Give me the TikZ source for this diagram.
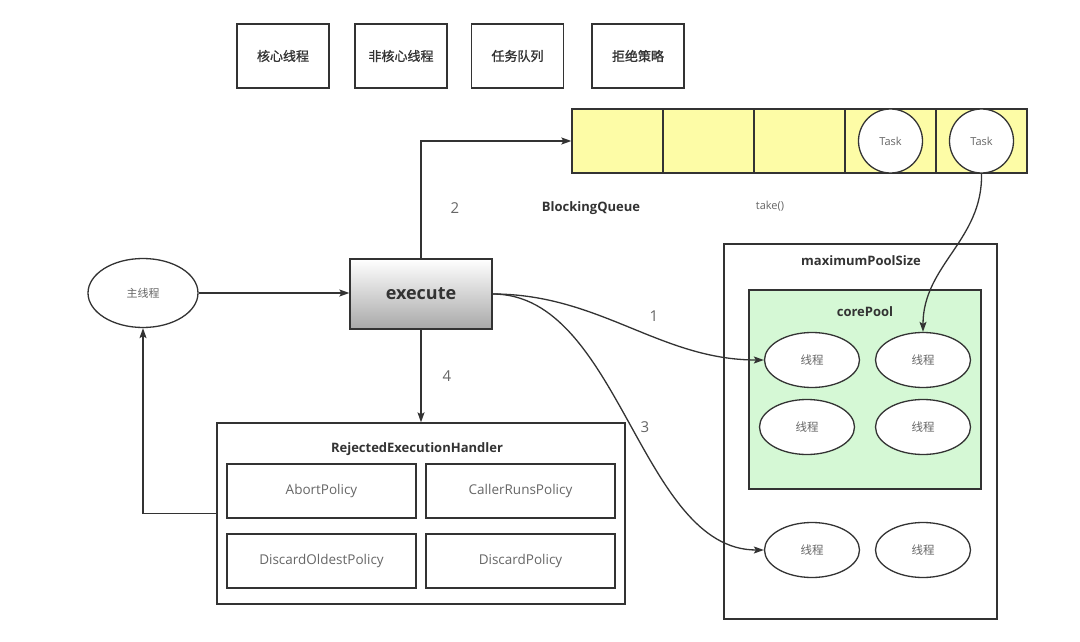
\documentclass[tikz,border=0pt]{standalone}
\usepackage{fontspec}
\setmainfont{Open Sans}
\newfontfamily\cjk{Noto Sans CJK SC}
\newfontfamily\cjkb{Noto Sans CJK SC}[FakeBold=1.2]
\usepackage{tikz}
\usetikzlibrary{shapes.geometric,arrows.meta,positioning}

\definecolor{linec}{HTML}{333333}
\definecolor{textd}{HTML}{333333}
\definecolor{textl}{HTML}{666666}
\definecolor{queuey}{HTML}{FDFCA6}
\definecolor{coreg}{HTML}{D5F8D5}

\tikzset{
  legend/.style = {draw=linec, minimum width=92pt, minimum height=64pt, font=\cjkb\fontsize{13}{15}\selectfont, text=textd},
  cell/.style = {draw=linec, fill=queuey, minimum width=91pt, minimum height=64pt, inner sep=0pt},
  task/.style = {circle, draw=linec, fill=white, minimum size=64pt, inner sep=0pt, font=\fontsize{11}{13}\selectfont, text=textl},
  thread/.style = {ellipse, draw=linec, fill=white, minimum width=95pt, minimum height=55pt, font=\cjk\fontsize{11.5}{13}\selectfont, text=textl},
  policy/.style = {draw=linec, minimum width=189pt, minimum height=54pt, font=\fontsize{13.5}{15}\selectfont, text=textl},
  title/.style = {font=\bfseries\fontsize{13}{15}\selectfont, text=textd},
  stepnum/.style = {font=\fontsize{15}{17}\selectfont, text=textl},
  arr/.style = {draw=linec, -{Stealth[length=10pt,width=7pt,inset=2pt]}},
}

\begin{document}
\begin{tikzpicture}[x=1pt, y=-1pt, line width=1.3pt]
  \fill[white] (0,0) rectangle (1080,642);

  % legend
  \node[legend] (core) at (283,56) {核心线程};
  \node[legend] (noncore) at (401,56) {非核心线程};
  \node[legend] (queue) at (517.5,56) {任务队列};
  \node[legend] (reject) at (638,56) {拒绝策略};

  % blocking queue
  \foreach \i in {1,...,5}
    \node[cell] (q\i) at ({572+91*\i-45.5},141) {};
  \node[task] (task1) at (q4) {Task};
  \node[task] (task2) at (q5) {Task};
  \node[title] (bq) at (591,208) {BlockingQueue};
  \node[font=\fontsize{11}{13}\selectfont, text=textl] (take) at (770,206) {take()};

  % main thread and execute
  \node[ellipse, draw=linec, minimum width=110pt, minimum height=69pt, font=\cjk\fontsize{11}{13}\selectfont, text=textl] (main) at (143,293) {主线程};
  \node[draw=linec, minimum width=142pt, minimum height=70pt, top color=white, bottom color=black!34, font=\bfseries\fontsize{18}{20}\selectfont, text=textd] (exec) at (421,294) {execute};

  % rejected execution handler
  \node[draw=linec, minimum width=408pt, minimum height=181pt] (handler) at (421,513.5) {};
  \node[title] (htitle) at (417,449) {RejectedExecutionHandler};
  \node[policy] (abort) at (321.5,491) {AbortPolicy};
  \node[policy] (caller) at (520.5,491) {CallerRunsPolicy};
  \node[policy] (oldest) at (321.5,561) {DiscardOldestPolicy};
  \node[policy] (discard) at (520.5,561) {DiscardPolicy};

  % thread pool
  \node[draw=linec, minimum width=273pt, minimum height=375pt] (maxpool) at (860.5,431.5) {};
  \node[title] (maxtitle) at (861,261) {maximumPoolSize};
  \node[draw=linec, fill=coreg, minimum width=232pt, minimum height=199pt] (corepool) at (865,389.5) {};
  \node[title] (coretitle) at (865,312) {corePool};
  \node[thread] (t1) at (812,360) {线程};
  \node[thread] (t2) at (923,360) {线程};
  \node[thread] (t3) at (807,427) {线程};
  \node[thread] (t4) at (923,427) {线程};
  \node[thread] (t5) at (812,550) {线程};
  \node[thread] (t6) at (923,550) {线程};

  % connectors
  \draw[arr] (main.east) -- (main.east -| exec.west);
  \draw[arr] (exec.north) |- (q1.west);
  \draw[arr] (exec.south) -- (exec.south |- handler.north);
  \draw[arr] (handler.west) -| (main.south);
  \draw[arr] (exec.east) .. controls (600,294) and (660,360) .. (t1.west);
  \draw[arr] (exec.east) .. controls (620,294) and (640,550) .. (t5.west);
  \draw[arr] (task2.south) .. controls (983,240) and (923,265) .. (t2.north);

  \node[stepnum] (n1) at (654,316) {1};
  \node[stepnum] (n2) at (455,208) {2};
  \node[stepnum] (n3) at (645,427) {3};
  \node[stepnum] (n4) at (447,376) {4};
\end{tikzpicture}
\end{document}
